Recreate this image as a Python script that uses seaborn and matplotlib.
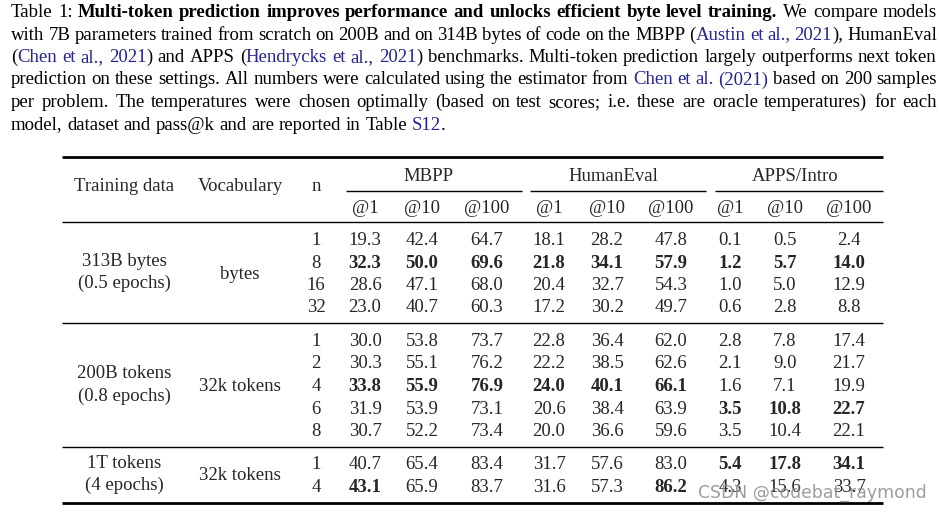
import matplotlib
matplotlib.use("Agg")
import matplotlib.pyplot as plt
import seaborn as sns

sns.set_theme(style="white")
plt.rcParams['font.family'] = ['Liberation Serif', 'DejaVu Serif']

# ---------------- data ----------------
# caption markup: *...* bold, |...| citation colour
caption_lines = [
    "Table 1: *Multi-token prediction improves performance and unlocks efficient byte level training.* We compare models",
    "with 7B parameters trained from scratch on 200B and on 314B bytes of code on the MBPP (|Austin et al., 2021|), HumanEval",
    "(|Chen et al., 2021|) and APPS (|Hendrycks et al., 2021|) benchmarks. Multi-token prediction largely outperforms next token",
    "prediction on these settings. All numbers were calculated using the estimator from |Chen et al. (2021)| based on 200 samples",
    "per problem. The temperatures were chosen optimally (based on test scores; i.e. these are oracle temperatures) for each",
    "model, dataset and pass@k and are reported in Table |S12|.",
]

col_headers = ["Training data", "Vocabulary", "n"]
benchmarks = ["MBPP", "HumanEval", "APPS/Intro"]
k_labels = ["@1", "@10", "@100"]

training_data = [["313B bytes", "(0.5 epochs)"],
                 ["200B tokens", "(0.8 epochs)"],
                 ["1T tokens", "(4 epochs)"]]
vocabulary = ["bytes", "32k tokens", "32k tokens"]
n_values = [[1, 8, 16, 32], [1, 2, 4, 6, 8], [1, 4]]

mbpp = [[[19.3, 42.4, 64.7], [32.3, 50.0, 69.6], [28.6, 47.1, 68.0], [23.0, 40.7, 60.3]],
        [[30.0, 53.8, 73.7], [30.3, 55.1, 76.2], [33.8, 55.9, 76.9], [31.9, 53.9, 73.1], [30.7, 52.2, 73.4]],
        [[40.7, 65.4, 83.4], [43.1, 65.9, 83.7]]]
humaneval = [[[18.1, 28.2, 47.8], [21.8, 34.1, 57.9], [20.4, 32.7, 54.3], [17.2, 30.2, 49.7]],
             [[22.8, 36.4, 62.0], [22.2, 38.5, 62.6], [24.0, 40.1, 66.1], [20.6, 38.4, 63.9], [20.0, 36.6, 59.6]],
             [[31.7, 57.6, 83.0], [31.6, 57.3, 86.2]]]
apps = [[[0.1, 0.5, 2.4], [1.2, 5.7, 14.0], [1.0, 5.0, 12.9], [0.6, 2.8, 8.8]],
        [[2.8, 7.8, 17.4], [2.1, 9.0, 21.7], [1.6, 7.1, 19.9], [3.5, 10.8, 22.7], [3.5, 10.4, 22.1]],
        [[5.4, 17.8, 34.1], [4.3, 15.6, 33.7]]]

# bold cells: (block, row, benchmark, k)
bold_cells = ([(0, 1, b, k) for b in range(3) for k in range(3)]
              + [(1, 2, b, k) for b in range(2) for k in range(3)]
              + [(1, 3, 2, k) for k in range(3)]
              + [(2, 0, 2, k) for k in range(3)]
              + [(2, 1, 0, 0), (2, 1, 1, 2)])

watermark = "CSDN @codebat_raymond"

# ---------------- layout ----------------
W, H = 939, 512
FS = 13.5
BLUE = "#26268c"
fig = plt.figure(figsize=(W / 100, H / 100), dpi=100)
ax = fig.add_axes([0, 0, 1, 1])
ax.set_xlim(0, W)
ax.set_ylim(H, 0)
ax.axis('off')
renderer = fig.canvas.get_renderer()


def parse(line):
    words, cur, seg = [], [], ""
    bold = blue = False
    for ch in line:
        if ch in "*| ":
            if seg:
                cur.append((seg, bold, blue))
                seg = ""
            if ch == "*":
                bold = not bold
            elif ch == "|":
                blue = not blue
            else:
                if cur:
                    words.append(cur)
                    cur = []
        else:
            seg += ch
    if seg:
        cur.append((seg, bold, blue))
    if cur:
        words.append(cur)
    return words


left, right = 11, 937
base0, lead = 17, 22.5
for li, line in enumerate(caption_lines):
    y = base0 + li * lead
    words = parse(line)
    placed = []
    for w in words:
        segs = []
        for txt, b, bl in w:
            t = ax.text(0, y, txt, fontsize=FS, fontweight='bold' if b else 'normal',
                        color=BLUE if bl else 'black', va='baseline', ha='left')
            segs.append((t, t.get_window_extent(renderer).width))
        placed.append(segs)
    widths = [sum(s[1] for s in segs) for segs in placed]
    if li < len(caption_lines) - 1:
        gap = (right - left - sum(widths)) / (len(placed) - 1)
    else:
        gap = 0.25 * FS * 100 / 72
    x = left
    for segs, wd in zip(placed, widths):
        xx = x
        for t, sw in segs:
            t.set_position((xx, y))
            xx += sw
        x += wd + gap

# table geometry
tab_l, tab_r = 62, 883
top_rule, cmid_y, head_rule = 157, 191, 222
block_rules = [323, 447]
bottom_rule = 503
x_train, x_vocab, x_n = 124, 240, 316
x_vals = [[365, 422, 487], [549, 607, 671], [730, 785, 849]]
x_group = [429, 613, 795]
cmid_spans = [(346, 522), (530, 706), (715, 883)]
block_first = [245, 346, 469]
row_step = 22.5

ax.plot([tab_l, tab_r], [top_rule, top_rule], color='black', lw=2.0, solid_capstyle='butt')
ax.plot([tab_l, tab_r], [bottom_rule, bottom_rule], color='black', lw=2.0, solid_capstyle='butt')
for yr in [head_rule] + block_rules:
    ax.plot([tab_l, tab_r], [yr, yr], color='black', lw=1.0, solid_capstyle='butt')
for a, b in cmid_spans:
    ax.plot([a, b], [cmid_y, cmid_y], color='black', lw=1.0, solid_capstyle='butt')

for x, lab in zip([x_train, x_vocab, x_n], col_headers):
    ax.text(x, 191, lab, fontsize=FS, ha='center', va='baseline')
for xg, lab in zip(x_group, benchmarks):
    ax.text(xg, 180.7, lab, fontsize=FS, ha='center', va='baseline')
for xs in x_vals:
    for x, lab in zip(xs, k_labels):
        ax.text(x, 212.7, lab, fontsize=FS, ha='center', va='baseline')

tables = [mbpp, humaneval, apps]
bold_set = set(bold_cells)
for bi in range(3):
    nrows = len(n_values[bi])
    y0 = block_first[bi]
    ylast = y0 + (nrows - 1) * row_step
    ymid = (y0 + ylast) / 2
    ax.text(x_train, ymid - 12.5, training_data[bi][0], fontsize=FS, ha='center', va='baseline')
    ax.text(x_train, ymid + 9.5, training_data[bi][1], fontsize=FS, ha='center', va='baseline')
    ax.text(x_vocab, ymid, vocabulary[bi], fontsize=FS, ha='center', va='baseline')
    for ri in range(nrows):
        y = y0 + ri * row_step
        ax.text(x_n, y, str(n_values[bi][ri]), fontsize=FS, ha='center', va='baseline')
        for tb in range(3):
            for k in range(3):
                v = tables[tb][bi][ri][k]
                bold = (bi, ri, tb, k) in bold_set
                ax.text(x_vals[tb][k], y, f"{v:.1f}", fontsize=FS, ha='center', va='baseline',
                        fontweight='bold' if bold else 'normal')

# watermark, scaled to span the same width as in the reference
wm = ax.text(698, 498, watermark, fontsize=13.5, ha='left', va='baseline',
             family=['DejaVu Sans'], color='#8c8c8c', alpha=0.85, zorder=10)
wm_w = wm.get_window_extent(renderer).width
wm.set_fontsize(13.5 * 227 / wm_w)

fig.savefig("out.png", dpi=100)
